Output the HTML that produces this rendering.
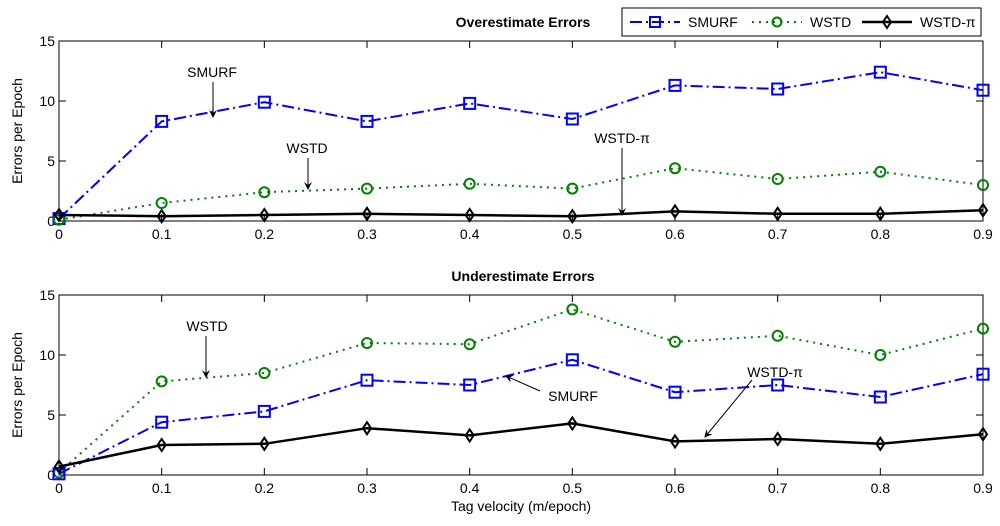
<!DOCTYPE html>
<html><head><meta charset="utf-8"><style>
body{margin:0;background:#fff;}
svg{display:block;font-family:"Liberation Sans",sans-serif;}
</style></head><body>
<svg id="c" width="1000" height="526"></svg>
<script>
const categories=[0,0.1,0.2,0.3,0.4,0.5,0.6,0.7,0.8,0.9];
const xTicks=["0","0.1","0.2","0.3","0.4","0.5","0.6","0.7","0.8","0.9"];
const yTicks=[0,5,10,15];
const overSmurf=[0.2,8.3,9.9,8.3,9.8,8.5,11.3,11.0,12.4,10.9];
const overWstd=[0.1,1.5,2.4,2.7,3.1,2.7,4.4,3.5,4.1,3.0];
const overPi=[0.5,0.4,0.5,0.6,0.5,0.4,0.8,0.6,0.6,0.9];
const underWstd=[0.2,7.8,8.5,11.0,10.9,13.8,11.1,11.6,10.0,12.2];
const underSmurf=[0.1,4.4,5.3,7.9,7.5,9.6,6.9,7.5,6.5,8.4];
const underPi=[0.7,2.5,2.6,3.9,3.3,4.3,2.8,3.0,2.6,3.4];
const NS="http://www.w3.org/2000/svg";
const svg=document.getElementById('c');
function mk(tag,at,parent){const e=document.createElementNS(NS,tag);for(const k in at)e.setAttribute(k,at[k]);(parent||svg).appendChild(e);return e;}
const X0=59,X1=983;
function xs(v){return X0+(v/0.9)*(X1-X0);}
function panel(top,bottom,title,series,name){
  const g=mk('g',{});
  
  
  const ys=v=>bottom-(v/15)*(bottom-top);
  mk('rect',{x:X0,y:top,width:X1-X0,height:bottom-top,fill:'#fff',stroke:'#000','stroke-width':1},g);
  categories.forEach((c,i)=>{
    const x=xs(c);
    mk('line',{x1:x,y1:bottom,x2:x,y2:bottom-7,stroke:'#000'},g);
    mk('line',{x1:x,y1:top,x2:x,y2:top+7,stroke:'#000'},g);
    const t=mk('text',{x:x,y:bottom+18,'font-size':14,'text-anchor':'middle'},g);t.textContent=xTicks[i];
    
    
  });
  yTicks.forEach(v=>{
    const y=ys(v);
    mk('line',{x1:X0,y1:y,x2:X0+7,y2:y,stroke:'#000'},g);
    mk('line',{x1:X1,y1:y,x2:X1-7,y2:y,stroke:'#000'},g);
    const t=mk('text',{x:X0-4,y:y+5,'font-size':14,'text-anchor':'end'},g);t.textContent=v;
    
    
  });
  const yl=mk('text',{x:0,y:0,'font-size':14,'text-anchor':'middle',transform:`translate(22,${(top+bottom)/2}) rotate(-90)`},g);yl.textContent='Errors per Epoch';
  
  
  const tt=mk('text',{x:523,y:top-14,'font-size':14,'font-weight':'bold','text-anchor':'middle'},g);tt.textContent=title;
  
  
  series.forEach(s=>{
    const pts=s.data.map((v,i)=>xs(categories[i])+','+ys(v)).join(' ');
    const pl=mk('polyline',{points:pts,fill:'none',stroke:s.color,'stroke-width':s.w,'stroke-dasharray':s.dash},g);
    
    
    s.data.forEach((v,i)=>{
      const x=xs(categories[i]),y=ys(v);
      let m;
      if(s.marker==='sq')m=mk('rect',{x:x-5.5,y:y-5.5,width:11,height:11,fill:'none',stroke:s.color,'stroke-width':2},g);
      else if(s.marker==='o')m=mk('circle',{cx:x,cy:y,r:5,fill:'none',stroke:s.color,'stroke-width':2},g);
      else m=mk('polygon',{points:`${x},${y-6} ${x+4},${y} ${x},${y+6} ${x-4},${y}`,fill:'none',stroke:s.color,'stroke-width':2},g);
      
      
    });
  });
}
const sm={color:'#0000ff',w:2,dash:'12,4,2,4',marker:'sq',name:'smurf'};
const ws={color:'#008000',w:2,dash:'2,5',marker:'o',name:'wstd'};
const pi={color:'#000',w:2.5,dash:'none',marker:'d',name:'wstd-pi'};
panel(41,221,'Overestimate Errors',[Object.assign({data:overSmurf},sm),Object.assign({data:overWstd},ws),Object.assign({data:overPi},pi)],'overestimate-panel');
panel(295,475,'Underestimate Errors',[Object.assign({data:underWstd},ws),Object.assign({data:underSmurf},sm),Object.assign({data:underPi},pi)],'underestimate-panel');
const xl=mk('text',{x:521,y:511,'font-size':14,'text-anchor':'middle'});xl.textContent='Tag velocity (m/epoch)';


// annotations
mk('defs',{}).innerHTML='<marker id="ah" markerWidth="8" markerHeight="10" refX="7" refY="5" orient="auto"><path d="M0,1 L8,5 L0,9 L3,5 Z" fill="#000"/></marker>';
function ann(tx,ty,label,x1,y1,x2,y2){
  const t=mk('text',{x:tx,y:ty,'font-size':14,'text-anchor':'middle'});t.textContent=label;
  
  
  const l=mk('line',{x1:x1,y1:y1,x2:x2,y2:y2,stroke:'#000','stroke-width':1,'marker-end':'url(#ah)'});
  
  
}
ann(212,77,'SMURF',213,82,213,117);
ann(307,153,'WSTD',308,158,308,189);
ann(622,143,'WSTD-π',622,148,622,215);
ann(207,331,'WSTD',206,336,206,377);
ann(573,401,'SMURF',540,391,506,376);
ann(775,377,'WSTD-π',752,380,705,437);
// legend
const lg=mk('g',{});


mk('rect',{x:622,y:8,width:359,height:28,fill:'#fff',stroke:'#000'},lg);
[[sm,'SMURF',630],[ws,'WSTD',752],[pi,'WSTD-π',862]].forEach(([s,lab,x])=>{
  const e=mk('g',{},lg);
  
  
  mk('line',{x1:x,y1:22,x2:x+50,y2:22,stroke:s.color,'stroke-width':s.w,'stroke-dasharray':s.dash},e);
  const c=x+25;
  if(s.marker==='sq')mk('rect',{x:c-5,y:17,width:10,height:10,fill:'none',stroke:s.color,'stroke-width':2},e);
  else if(s.marker==='o')mk('circle',{cx:c,cy:22,r:4.5,fill:'none',stroke:s.color,'stroke-width':2},e);
  else mk('polygon',{points:`${c},16 ${c+4},22 ${c},28 ${c-4},22`,fill:'none',stroke:s.color,'stroke-width':2},e);
  const t=mk('text',{x:x+58,y:27,'font-size':14},e);t.textContent=lab;
});
</script>
</body></html>
